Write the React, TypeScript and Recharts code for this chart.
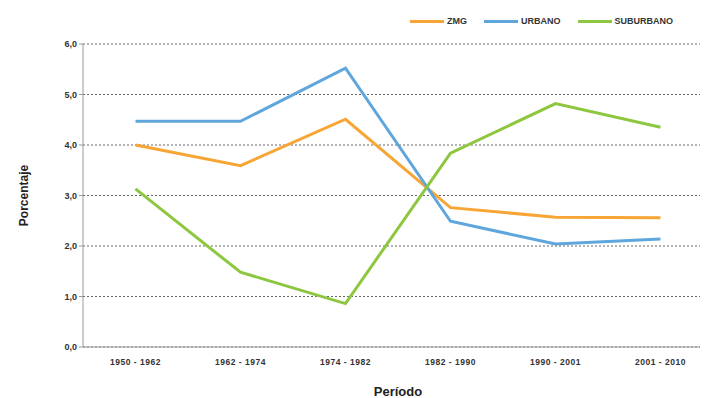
import { LineChart, Line, XAxis, YAxis, CartesianGrid, Legend, Label } from "recharts";

const periodos = ["1950 - 1962", "1962 - 1974", "1974 - 1982", "1982 - 1990", "1990 - 2001", "2001 - 2010"];
const zmg = [4.0, 3.59, 4.51, 2.76, 2.57, 2.56];
const urbano = [4.47, 4.47, 5.52, 2.49, 2.04, 2.14];
const suburbano = [3.13, 1.48, 0.86, 3.84, 4.82, 4.35];
const yTicks = [0, 1, 2, 3, 4, 5, 6];
const seriesOrder = ["ZMG", "URBANO", "SUBURBANO"];

const data = periodos.map((p, i) => ({
  periodo: p,
  ZMG: zmg[i],
  URBANO: urbano[i],
  SUBURBANO: suburbano[i],
}));

const FONT = "'Liberation Sans', Arial, sans-serif";

function LegendContent(props: any) {
  const items = [...(props.payload || [])].sort(
    (a: any, b: any) => seriesOrder.indexOf(a.value) - seriesOrder.indexOf(b.value)
  );
  return (
    <div style={{ display: "flex", fontFamily: FONT, fontSize: 9, fontWeight: "bold", color: "#333" }}>
      {items.map((it: any) => (
        <div key={it.value} style={{ display: "flex", alignItems: "center", marginRight: 17 }}>
          <span style={{ display: "inline-block", width: 34, height: 3, background: it.color, marginRight: 3 }} />
          <span>{it.value}</span>
        </div>
      ))}
    </div>
  );
}

export default function App() {
  return (
    <div style={{ width: 700, height: 390, overflow: "hidden", background: "#fff" }}>
      <LineChart width={705} height={390} data={data} margin={{ top: 26, right: 0, bottom: 21, left: 0 }}>
        <CartesianGrid vertical={false} stroke="#666" strokeDasharray="2 2" />
        <XAxis
          dataKey="periodo"
          scale="band"
          height={30}
          axisLine={{ stroke: "#999" }}
          tickLine={false}
          interval={0}
          tick={{ fontFamily: FONT, fontSize: 8.5, fontWeight: "bold", fill: "#333", letterSpacing: 0.5 }}
          tickMargin={6}
        >
          <Label value="Período" position="insideBottom" offset={-19} style={{ fontFamily: FONT, fontSize: 13, fontWeight: "bold", fill: "#222" }} />
        </XAxis>
        <YAxis
          width={75}
          domain={[0, 6]}
          ticks={yTicks}
          axisLine={{ stroke: "#999" }}
          tickLine={{ stroke: "#999" }}
          tickSize={4}
          tickFormatter={(v: number) => v.toFixed(1).replace(".", ",")}
          tick={{ fontFamily: FONT, fontSize: 9, fontWeight: "bold", fill: "#333" }}
        >
          <Label value="Porcentaje" angle={-90} position="insideLeft" offset={16} style={{ fontFamily: FONT, fontSize: 12, fontWeight: "bold", fill: "#222", textAnchor: "middle" }} />
        </YAxis>
        <Legend verticalAlign="top" content={<LegendContent />} wrapperStyle={{ top: 8, left: 402, width: 300 }} />
        <Line type="linear" dataKey="ZMG" stroke="#f7a535" strokeWidth={3} dot={false} isAnimationActive={false} />
        <Line type="linear" dataKey="URBANO" stroke="#5fa6dc" strokeWidth={3} dot={false} isAnimationActive={false} />
        <Line type="linear" dataKey="SUBURBANO" stroke="#8dc63f" strokeWidth={3} dot={false} isAnimationActive={false} />
      </LineChart>
    </div>
  );
}
